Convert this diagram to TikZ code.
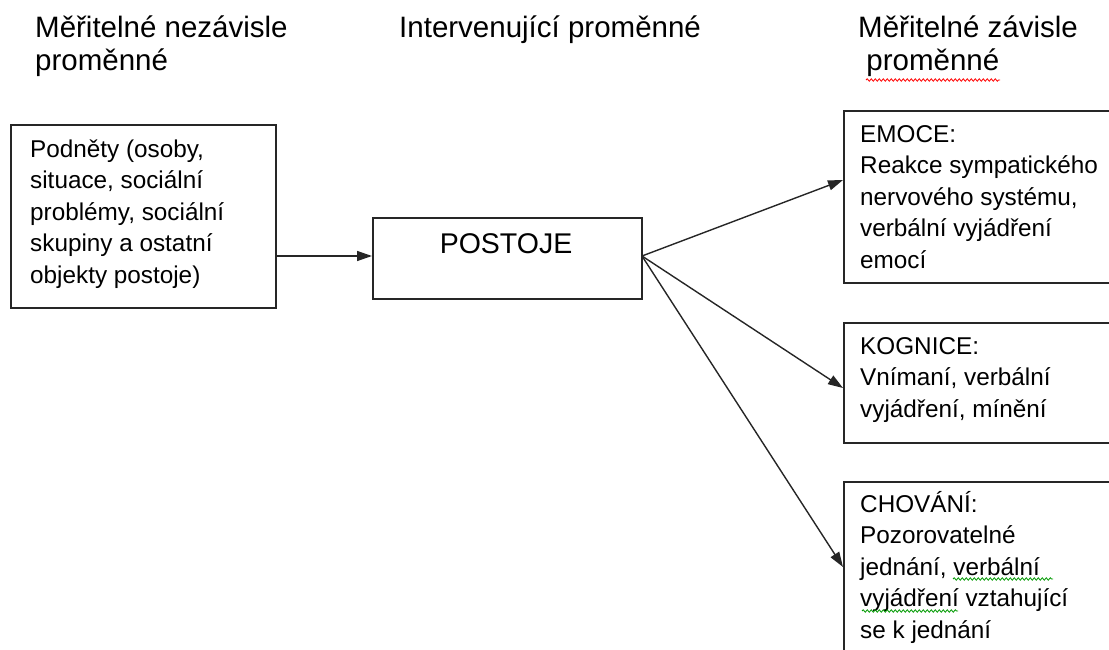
\documentclass[tikz,border=0pt]{standalone}
\usepackage{fontspec}
\setmainfont{Liberation Sans}
\usetikzlibrary{arrows.meta,decorations.pathmorphing}
\begin{document}
\begin{tikzpicture}[x=1pt,y=-1pt,
  box/.style={draw=black!85,line width=1.9pt,rectangle,inner sep=0pt,anchor=north west},
  boxtext/.style={inner sep=0pt,anchor=base west,align=left,font=\fontsize{24.3pt}{31.5pt}\selectfont},
  head/.style={inner sep=0pt,anchor=base west,align=left,font=\fontsize{29.5pt}{32.5pt}\selectfont},
  conn/.style={draw=black!85,line width=1.4pt,-{Triangle[length=15pt,width=10pt]}},
  squig/.style={decorate,decoration={snake,amplitude=1.2pt,segment length=4pt},line width=0.8pt}]
\useasboundingbox (0,0) rectangle (1109,650);
\clip (0,0) rectangle (1109,650);
% headers (anchor = baseline of last line)
\node[head] (h1) at (35,70.5) {Měřitelné nezávisle\\proměnné};
\node[head] (h2) at (399,38) {Intervenující proměnné};
\node[head] (h3) at (858,70.5) {Měřitelné závisle\\\ proměnné};
\draw[squig,red] (866,80) -- (1000,80);
% boxes
\node[box,minimum width=265pt,minimum height=183pt] (stim) at (10,124) {};
\node[box,minimum width=269pt,minimum height=81pt] (post) at (372,217) {};
\node[box,minimum width=275pt,minimum height=172pt] (emo) at (843,110) {};
\node[box,minimum width=275pt,minimum height=120pt] (kog) at (843,322) {};
\node[box,minimum width=275pt,minimum height=190pt] (cho) at (843,481) {};
% texts (anchor = baseline of last line)
\node[boxtext] (tstim) at (30,283) {Podněty (osoby,\\situace, sociální\\problémy, sociální\\skupiny a ostatní\\objekty postoje)};
\node[inner sep=0pt,anchor=base,font=\fontsize{28.5pt}{30pt}\selectfont] (tpost) at (506,253) {POSTOJE};
\node[boxtext] (temo) at (860,268) {EMOCE:\\Reakce sympatického\\nervového systému,\\verbální vyjádření\\emocí};
\node[boxtext] (tkog) at (860,417) {KOGNICE:\\Vnímaní, verbální\\vyjádření, mínění};
\node[boxtext] (tcho) at (860,638) {CHOVÁNÍ:\\Pozorovatelné\\jednání, verbální\\vyjádření vztahující\\se k jednání};
\draw[squig,green!60!black] (953,579) -- (1053,579);
\draw[squig,green!60!black] (862,611) -- (958,611);
% connectors
\coordinate (src) at (642,256);
\coordinate (e1) at (843,180);
\coordinate (e2) at (843,388);
\coordinate (e3) at (843,567);
\draw[conn] (stim.east |- src) -- (post.west |- src);
\draw[conn] (src) -- (e1);
\draw[conn] (src) -- (e2);
\draw[conn] (src) -- (e3);
\end{tikzpicture}
\end{document}
